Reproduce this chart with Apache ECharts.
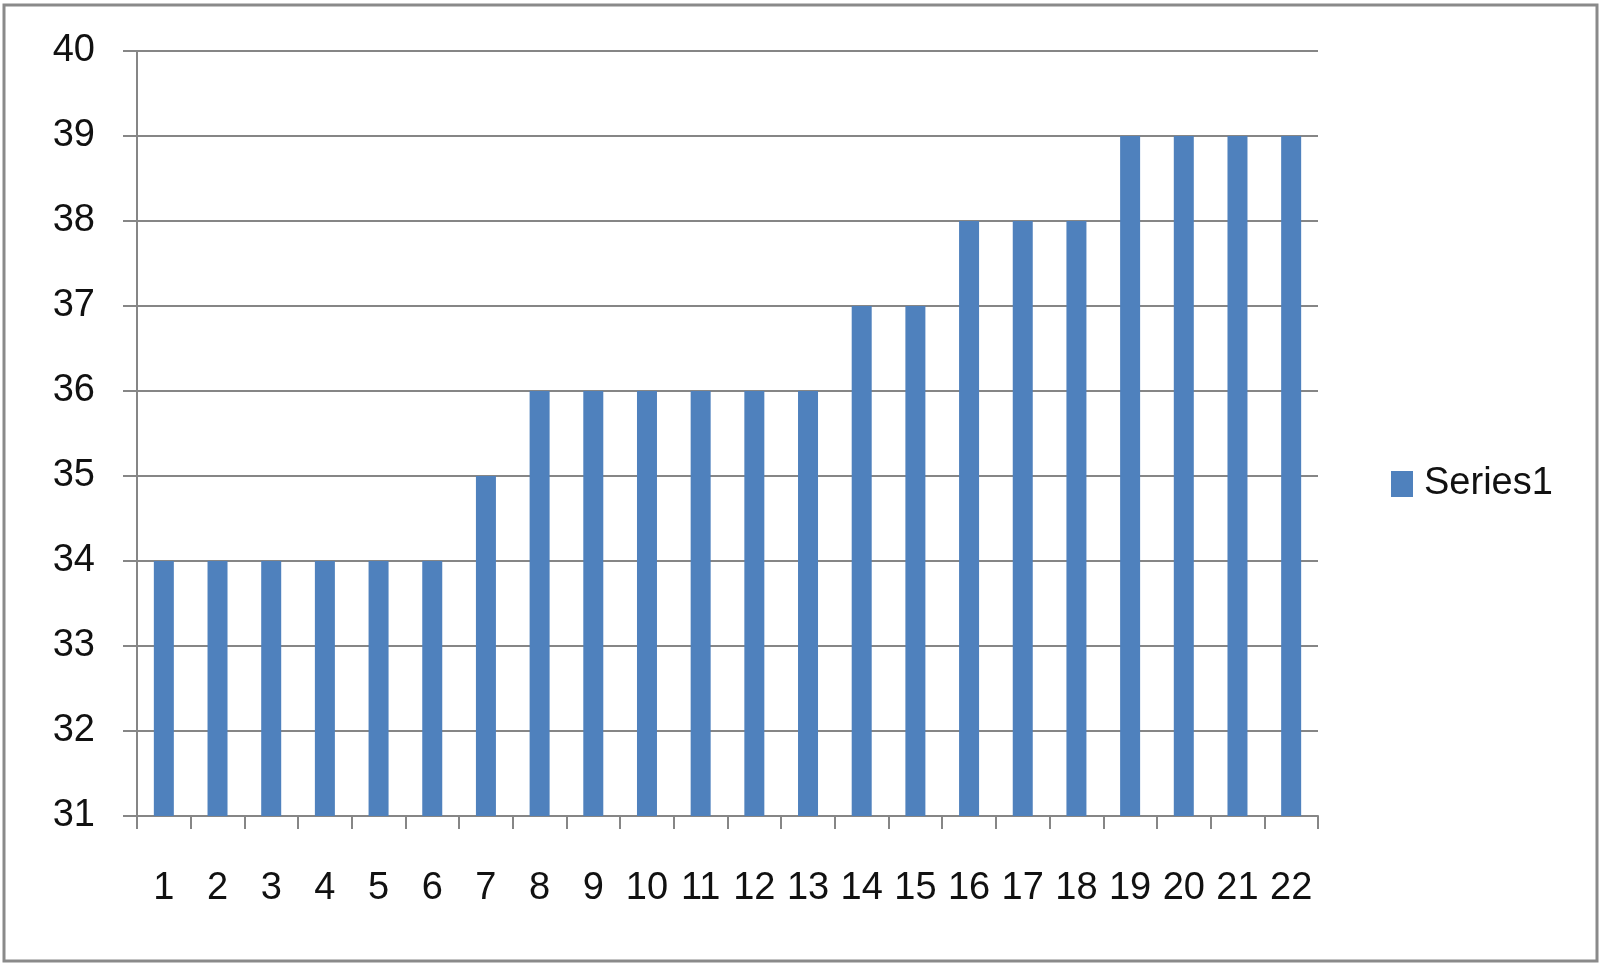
<!DOCTYPE html>
<html>
<head>
<meta charset="utf-8">
<script src="https://cdn.jsdelivr.net/npm/echarts@6/dist/echarts.min.js"></script>
<style>html,body{margin:0;padding:0;background:#fff;}#c{width:1600px;height:964px;}</style>
</head>
<body>
<div id="c"></div>
<script>
const categories = ['1','2','3','4','5','6','7','8','9','10','11','12','13','14','15','16','17','18','19','20','21','22'];
const series1 = [34,34,34,34,34,34,35,36,36,36,36,36,36,37,37,38,38,38,39,39,39,39];
const seriesName = 'Series1';

const chart = echarts.init(document.getElementById('c'), null, {renderer: 'canvas'});
const font = 'Liberation Sans';
chart.setOption({
  animation: false,
  backgroundColor: '#ffffff',
  textStyle: {fontFamily: font},
  graphic: [{
    type: 'rect', z: 0,
    shape: {x: 4, y: 5, width: 1593, height: 956},
    style: {fill: 'none', stroke: '#8a8a8a', lineWidth: 3}
  }],
  legend: {
    data: [seriesName],
    left: 1386, top: 460,
    icon: 'rect', itemWidth: 22, itemHeight: 26,
    textStyle: {fontSize: 38, color: '#111', fontFamily: font, padding: [0,0,0,6]}
  },
  grid: {left: 137, right: 282, top: 51, bottom: 148},
  xAxis: {
    type: 'category',
    data: categories,
    boundaryGap: true,
    axisLine: {lineStyle: {color: '#868686', width: 2}},
    axisTick: {show: true, length: 13, lineStyle: {color: '#868686', width: 2}},
    axisLabel: {margin: 54, fontSize: 38, color: '#111', fontFamily: font, interval: 0}
  },
  yAxis: {
    type: 'value',
    min: 31, max: 40, interval: 1,
    axisLine: {show: true, lineStyle: {color: '#868686', width: 2}},
    axisTick: {show: true, length: 14, lineStyle: {color: '#868686', width: 2}},
    splitLine: {show: true, lineStyle: {color: '#868686', width: 2}},
    axisLabel: {margin: 42, fontSize: 38, color: '#111', fontFamily: font}
  },
  series: [{
    name: seriesName,
    type: 'bar',
    data: series1,
    barWidth: 20,
    itemStyle: {color: '#4f81bd'}
  }]
});
</script>
</body>
</html>
